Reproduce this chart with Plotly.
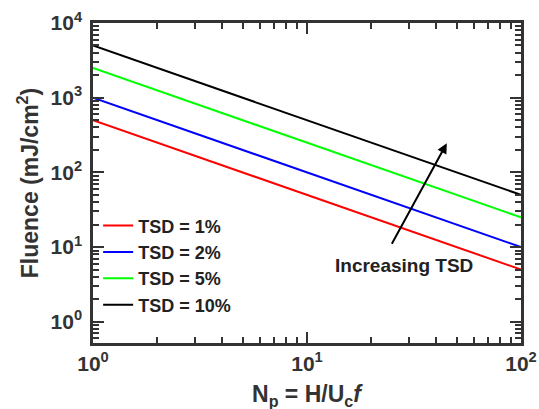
import numpy as np
import plotly.graph_objects as go

x_vals = [1, 100]
series_names = ["TSD = 1%", "TSD = 2%", "TSD = 5%", "TSD = 10%"]
series_values = [[500, 5], [1000, 10], [2500, 25], [5000, 50]]
series_colors = ["#FF0000", "#0000FF", "#00FF00", "#000000"]

x_tickvals = [1, 10, 100]
x_ticktext = ["<b>10<sup>0</sup></b>", "<b>10<sup>1</sup></b>", "<b>10<sup>2</sup></b>"]
y_tickvals = [1, 10, 100, 1000, 10000]
y_ticktext = ["<b>10<sup>0</sup></b>", "<b>10<sup>1</sup></b>", "<b>10<sup>2</sup></b>",
              "<b>10<sup>3</sup></b>", "<b>10<sup>4</sup></b>"]

x_minor = [m * 10 ** k for k in range(0, 2) for m in range(2, 10)]
y_minor = [m * 10 ** k for k in range(-1, 4) for m in range(2, 10)]

fig = go.Figure()
for name, vals, col in zip(series_names, series_values, series_colors):
    fig.add_trace(go.Scatter(x=x_vals, y=vals, mode="lines", name=name,
                             line=dict(color=col, width=2)))

axcol = "#333333"
font = "Liberation Sans, Arial, sans-serif"


def common(minor_vals):
    return dict(type="log", automargin=False, showgrid=False, zeroline=False, showline=True,
                linecolor=axcol, linewidth=2.5, mirror="ticks", ticks="inside", ticklen=11,
                tickwidth=2, tickcolor=axcol,
                minor=dict(tickmode="array", tickvals=minor_vals, ticks="inside", ticklen=6,
                           tickwidth=1.5, tickcolor=axcol, showgrid=False),
                tickfont=dict(family=font, size=21, color="#333333"))


fig.update_xaxes(range=[0, 2], tickvals=x_tickvals, ticktext=x_ticktext, **common(x_minor))
fig.update_yaxes(range=[np.log10(0.52), 4], tickvals=y_tickvals, ticktext=y_ticktext,
                 ticklabelstandoff=4,
                 title=dict(text="<b>Fluence (mJ/cm<sup>2</sup>)</b>",
                            font=dict(family=font, size=23, color="#333333"), standoff=6),
                 **common(y_minor))

fig.add_annotation(x=0.5, y=-0.165, xref="paper", yref="paper", showarrow=False,
                   xanchor="center", yanchor="middle",
                   text="<b>N<sub>p</sub> = H/U<sub>c</sub><i>f</i></b>",
                   font=dict(family=font, size=23, color="#333333"))

fig.add_annotation(x=np.log10(45), y=np.log10(245), ax=np.log10(24.7), ay=np.log10(10.6),
                   xref="x", yref="y", axref="x", ayref="y",
                   showarrow=True, arrowhead=2, arrowsize=1, arrowwidth=2, arrowcolor="#000000",
                   text="")
fig.add_annotation(x=np.log10(28.5), y=np.log10(5.6), xref="x", yref="y", showarrow=False,
                   text="<b>Increasing TSD</b>", font=dict(family=font, size=19, color="#222222"))

fig.update_layout(
    width=539, height=409,
    margin=dict(l=93, r=18, t=23, b=66),
    plot_bgcolor="white", paper_bgcolor="white",
    font=dict(family=font, color="#222222"),
    legend=dict(x=0.012, y=0.424, xanchor="left", yanchor="top",
                bgcolor="rgba(0,0,0,0)", borderwidth=0,
                font=dict(family=font, size=18, color="#222222", weight="bold"),
                itemwidth=30, tracegroupgap=0),
    showlegend=True,
)

fig.write_html("out.html", config={"displayModeBar": False},
               post_script="document.body.style.margin='0px';document.body.style.overflow='hidden';")
